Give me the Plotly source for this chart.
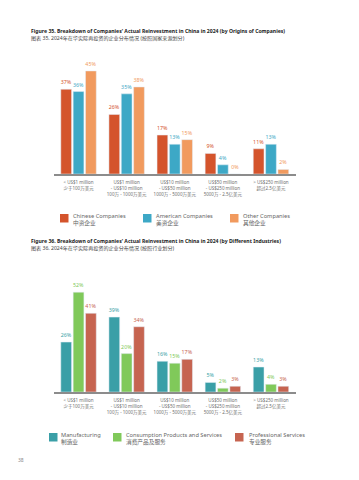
import plotly.graph_objects as go

W, H = 359, 480

categories = ["< US$1 million<br>少于100万美元",
              "US$1 million<br>- US$10 million<br>100万 - 1000万美元",
              "US$10 million<br>- US$50 million<br>1000万 - 5000万美元",
              "US$50 million<br>- US$250 million<br>5000万 - 2.5亿美元",
              "> US$250 million<br>超过2.5亿美元"]

# Figure 35 (by origins)
chinese = [37, 26, 17, 9, 11]
american = [36, 35, 13, 4, 13]
other = [45, 38, 15, 0, 2]
origin_names = ["Chinese Companies", "American Companies", "Other Companies"]
origin_names_cn = ["中资企业", "美资企业", "其他企业"]
origin_colors = ["#D4542C", "#3DA8C6", "#F19A5E"]

# Figure 36 (by industries)
manufacturing = [26, 39, 16, 5, 13]
consumption = [52, 20, 15, 2, 4]
professional = [41, 34, 17, 3, 3]
industry_names = ["Manufacturing", "Consumption Products and Services", "Professional Services"]
industry_names_cn = ["制造业", "消费产品及服务", "专业服务"]
industry_colors = ["#3A9FA7", "#80C95A", "#C66450"]

FONT = "Noto Sans, Noto Sans CJK SC, sans-serif"

def py(p):
    return 1 - p / H

def px(p):
    return p / W

fig = go.Figure()
xs = list(range(len(categories)))

for vals, name, col in zip([chinese, american, other], origin_names, origin_colors):
    fig.add_trace(go.Bar(x=xs, y=vals, name=name, marker_color=col, xaxis="x", yaxis="y",
                         text=[f"{v}%" for v in vals], textposition="outside",
                         textfont=dict(size=5.3, color=col, family=FONT),
                         constraintext="none", cliponaxis=False, showlegend=False))

for vals, name, col in zip([manufacturing, consumption, professional], industry_names, industry_colors):
    fig.add_trace(go.Bar(x=xs, y=vals, name=name, marker_color=col, xaxis="x2", yaxis="y2",
                         text=[f"{v}%" for v in vals], textposition="outside",
                         textfont=dict(size=5.3, color=col, family=FONT),
                         constraintext="none", cliponaxis=False, showlegend=False))

xdom = [px(54), px(296)]
axis_common = dict(tickmode="array", tickvals=xs, ticktext=categories, range=[-0.51, 4.52],
                   showline=True, linecolor="#8c8c8c", linewidth=1.5, ticks="",
                   showgrid=False, zeroline=False, tickfont=dict(size=4.5, color="#6e6e6e", family=FONT),
                   ticklabelstandoff=3, fixedrange=True)

fig.update_layout(
    width=W, height=H, margin=dict(l=0, r=0, t=0, b=0),
    paper_bgcolor="white", plot_bgcolor="white",
    barmode="group", bargap=0.23, bargroupgap=0.13,
    font=dict(family=FONT),
    xaxis=dict(domain=xdom, anchor="y", **axis_common),
    yaxis=dict(domain=[py(174), py(174 - 50 * 2.29)], range=[0, 50], visible=False, fixedrange=True),
    xaxis2=dict(domain=xdom, anchor="y2", **axis_common),
    yaxis2=dict(domain=[py(392), py(392 - 60 * 1.92)], range=[0, 60], visible=False, fixedrange=True),
)

anns = []
shapes = []

def title(eng, cn, y_en, y_cn):
    anns.append(dict(text=f"<b>{eng}</b>", x=px(29), y=py(y_en), xref="paper", yref="paper",
                     xanchor="left", yanchor="middle", showarrow=False,
                     font=dict(size=5.1, color="#222222", family=FONT)))
    anns.append(dict(text=cn, x=px(29), y=py(y_cn), xref="paper", yref="paper",
                     xanchor="left", yanchor="middle", showarrow=False,
                     font=dict(size=5.1, color="#444444", family=FONT)))

title("Figure 35. Breakdown of Companies' Actual Reinvestment in China in 2024 (by Origins of Companies)",
      "图表 35. 2024年在华实际再投资的企业分布情况 (按照国家来源划分)", 31, 38.5)
title("Figure 36. Breakdown of Companies' Actual Reinvestment in China in 2024 (by Different Industries)",
      "图表 36. 2024年在华实际再投资的企业分布情况 (按照行业划分)", 240.5, 248)

def legend(names, names_cn, colors, sq_x, txt_x, y0):
    for n, c_n, col, sx, tx in zip(names, names_cn, colors, sq_x, txt_x):
        shapes.append(dict(type="rect", xref="paper", yref="paper", x0=px(sx), x1=px(sx + 8.5),
                           y0=py(y0 + 8.5), y1=py(y0), fillcolor=col, line=dict(width=0)))
        anns.append(dict(text=f"{n}<br>{c_n}", x=px(tx), y=py(y0 - 4.5), xref="paper", yref="paper",
                         xanchor="left", yanchor="top", align="left", showarrow=False,
                         font=dict(size=5.7, color="#666666", family=FONT)))

legend(origin_names, origin_names_cn, origin_colors, [60, 143, 230], [70.5, 153.5, 241], 214)
legend(industry_names, industry_names_cn, industry_colors, [49, 113, 235], [58.5, 123.5, 247], 433)

anns.append(dict(text="38", x=px(16), y=py(460), xref="paper", yref="paper", xanchor="left",
                 yanchor="middle", showarrow=False, font=dict(size=5, color="#888888", family=FONT)))

fig.update_layout(annotations=anns, shapes=shapes)
fig.write_html("out.html", config={"displayModeBar": False},
               post_script="document.body.style.margin='0px';document.body.style.padding='0px';")
